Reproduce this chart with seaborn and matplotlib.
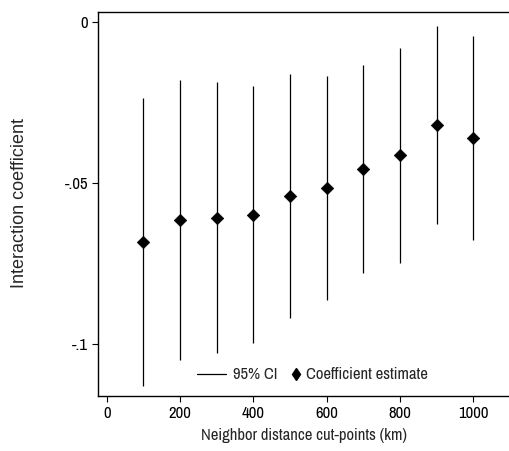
import numpy as np
import pandas as pd
import matplotlib
matplotlib.use("Agg")
import matplotlib.pyplot as plt
from matplotlib import font_manager
from matplotlib.lines import Line2D
import seaborn as sns

# data
cutpoints = [100, 200, 300, 400, 500, 600, 700, 800, 900, 1000]
estimate = [-0.0682, -0.0615, -0.0609, -0.0598, -0.0540, -0.0516, -0.0457, -0.0414, -0.0321, -0.0360]
ci_low = [-0.1128, -0.1049, -0.1028, -0.0996, -0.0919, -0.0863, -0.0780, -0.0748, -0.0628, -0.0677]
ci_high = [-0.0237, -0.0181, -0.0188, -0.0200, -0.0161, -0.0169, -0.0133, -0.0081, -0.0013, -0.0044]

df = pd.DataFrame({"cut": cutpoints, "est": estimate, "lo": ci_low, "hi": ci_high})

sns.set_style("ticks")

# reference text is horizontally condensed -> use a narrow sans if installed
names = {f.name for f in font_manager.fontManager.ttflist}
narrow = [n for n in ["Liberation Sans Narrow"] if n in names]
if not narrow:
    narrow = sorted(n for n in names if "Narrow" in n or "Condensed" in n)[:1]
plt.rcParams["font.family"] = narrow + ["Liberation Sans", "DejaVu Sans"]
fs = 12 if narrow else 10

fig = plt.figure(figsize=(5.1, 4.51), dpi=100)
ax = fig.add_axes([0.192, 0.122, 0.808, 0.851])

ax.vlines(df["cut"], df["lo"], df["hi"], color="black", lw=0.9)
sns.scatterplot(data=df, x="cut", y="est", marker="D", s=40, color="black",
                edgecolor="black", ax=ax, zorder=3)

ax.set_xlim(-24, 1100)
ax.set_ylim(-0.116, 0.003)
ax.set_xticks([0, 200, 400, 600, 800, 1000])
ax.set_yticks([0, -0.05, -0.1])
ax.set_yticklabels(["0", "-.05", "-.1"])
ax.tick_params(direction="out", length=4, width=0.8, labelsize=fs, colors="black", pad=3)
ax.spines["right"].set_visible(False)
for s in ax.spines.values():
    s.set_linewidth(1.0)
    s.set_color("black")

ax.set_xlabel("Neighbor distance cut-points (km)", fontsize=fs, labelpad=5)
ax.set_ylabel("Interaction coefficient", fontsize=13, family=["Liberation Sans", "DejaVu Sans"])
ax.yaxis.set_label_coords(-0.17, 0.503)

# two legend pieces so the marker entry can have a short handle
leg1 = ax.legend([Line2D([], [], color="black", lw=0.9)], ["95% CI"],
                 loc="center left", bbox_to_anchor=(0.240, 0.055), frameon=False,
                 fontsize=fs, handlelength=1.74, handletextpad=0.42,
                 borderpad=0, borderaxespad=0)
ax.add_artist(leg1)
ax.legend([Line2D([], [], color="black", marker="d", ls="none", markersize=6.5)],
          ["Coefficient estimate"], loc="center left", bbox_to_anchor=(0.464, 0.055),
          frameon=False, fontsize=fs, handlelength=0.8, handletextpad=0.2,
          borderpad=0, borderaxespad=0)

fig.savefig("out.png", dpi=100)
